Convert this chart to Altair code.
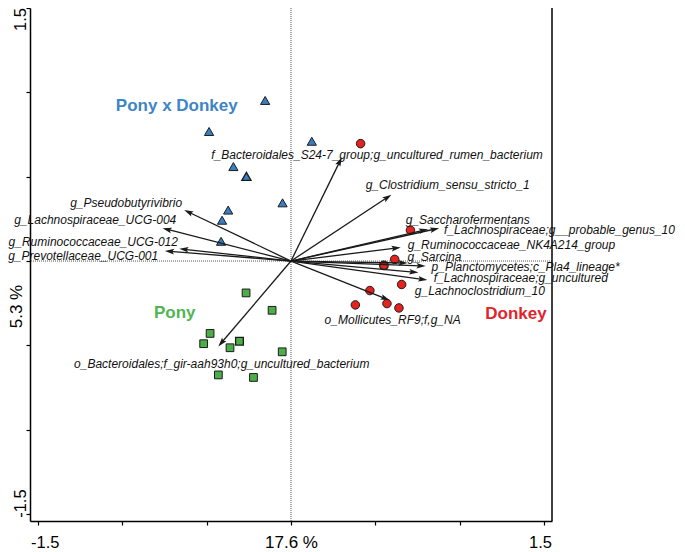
import altair as alt
import pandas as pd

# ---------------- sample scores ----------------
pxd_x = [-0.153, -0.485, -0.341, 0.123, -0.050, -0.372, -0.408, -0.414]
pxd_y = [0.952, 0.768, 0.560, 0.710, 0.345, 0.302, 0.242, 0.117]
donkey_x = [0.412, 0.707, 0.614, 0.655, 0.467, 0.568, 0.639, 0.381]
donkey_y = [0.696, 0.183, 0.010, -0.139, -0.175, -0.252, -0.278, -0.260]
pony_x = [-0.266, -0.112, -0.479, -0.517, -0.361, -0.052, -0.430, -0.222]
pony_y = [-0.189, -0.292, -0.429, -0.490, -0.514, -0.538, -0.675, -0.690]

groups = ["Pony x Donkey", "Donkey", "Pony"]
centroid_x = [-0.264, 0.550, -0.305]
centroid_y = [0.502, -0.026, -0.476]
group_label_x = [-0.676, 1.332, -0.688]
group_label_y = [0.917, -0.315, -0.310]

# ---------------- species arrows ----------------
species = [
    "f_Bacteroidales_S24-7_group;g_uncultured_rumen_bacterium",
    "g_Clostridium_sensu_stricto_1",
    "g_Saccharofermentans",
    "f_Lachnospiraceae;g__probable_genus_10",
    "g_Ruminococcaceae_NK4A214_group",
    "g_Sarcina",
    "p_Planctomycetes;c_Pla4_lineage*",
    "f_Lachnospiraceae;g_uncultured",
    "g_Lachnoclostridium_10",
    "o_Mollicutes_RF9;f,g_NA",
    "g_Pseudobutyrivibrio",
    "g_Lachnospiraceae_UCG-004",
    "g_Ruminococcaceae_UCG-012",
    "g_Prevotellaceae_UCG-001",
    "o_Bacteroidales;f_gir-aah93h0;g_uncultured_bacterium",
]
arrow_x = [0.301, 0.594, 0.811, 0.877, 0.649, 0.690, 0.797, 0.754, 0.807, 0.584,
           -0.632, -0.760, -0.661, -0.746, -0.430]
arrow_y = [0.615, 0.393, 0.189, 0.195, 0.080, -0.012, -0.030, -0.068, -0.113, -0.232,
           0.302, 0.195, 0.073, 0.060, -0.506]
label_x = [-0.472, 0.442, 0.679, 0.906, 0.691, 0.689, 0.832, 0.845, 0.733, 0.199,
           -0.644, -0.679, -0.669, -0.786, -1.284]
label_y = [0.631, 0.451, 0.246, 0.183, 0.093, 0.024, -0.034, -0.099, -0.179, -0.347,
           0.347, 0.242, 0.113, 0.030, -0.609]
label_anchor = ["start"] * 10 + ["end"] * 4 + ["start"]

tick_values = [-1.5, -1.0, -0.5, 0.0, 0.5, 1.0, 1.5]

# ---------------- tables ----------------
samples = pd.DataFrame({
    "x": pxd_x + donkey_x + pony_x,
    "y": pxd_y + donkey_y + pony_y,
    "group": [groups[0]] * len(pxd_x) + [groups[1]] * len(donkey_x) + [groups[2]] * len(pony_x),
})
cents = pd.DataFrame({"x": centroid_x, "y": centroid_y, "group": groups})
glabels = pd.DataFrame({"x": group_label_x, "y": group_label_y, "group": groups})
arrows = pd.DataFrame({"sp": species, "ax": arrow_x, "ay": arrow_y,
                       "lx": label_x, "ly": label_y, "anchor": label_anchor})

FONT = "Liberation Sans"
W, H = 522, 513
xs = alt.Scale(domain=[-1.545, 1.545], nice=False, zero=False)
ys = alt.Scale(domain=[-1.541, 1.5], nice=False, zero=False)
label_expr = "datum.value == 1.5 ? '1.5' : (datum.value == -1.5 ? '-1.5' : '')"

x_axis = alt.Axis(values=tick_values, labelExpr=label_expr, title="17.6 %", grid=False,
                  labelFlush=10, labelFlushOffset=7, labelPadding=9, tickSize=4,
                  titleY=26, titleBaseline="alphabetic")
y_axis = alt.Axis(values=tick_values, labelExpr=label_expr, title="5.3 %", grid=False,
                  labelAngle=270, labelAlign="center", labelBaseline="alphabetic",
                  labelPadding=1, tickSize=4,
                  labelOffset={"condition": {"test": "datum.value < 0", "value": -11}, "value": 11},
                  titleAngle=270, titleX=-14, titleY=298, titleAlign="center",
                  titleBaseline="middle")


def X(f):
    return alt.X(f, type="quantitative", scale=xs, axis=x_axis)


def Y(f):
    return alt.Y(f, type="quantitative", scale=ys, axis=y_axis)


shape_scale = alt.Scale(domain=groups, range=["triangle-up", "circle", "square"])
fill_scale = alt.Scale(domain=groups, range=["#3a7ec2", "#e4221f", "#4cae48"])
text_scale = alt.Scale(domain=groups, range=["#3d85c6", "#e3232b", "#52b452"])

zero = pd.DataFrame({"v": [0.0]})
vline = alt.Chart(zero).mark_rule(color="#555555", strokeWidth=1, strokeDash=[1, 1]).encode(x=X("v"))
hline = alt.Chart(zero).mark_rule(color="#555555", strokeWidth=1, strokeDash=[1, 1]).encode(y=Y("v"))
right_frame = alt.Chart(zero).mark_rule(color="black", strokeWidth=1.5).encode(
    x=alt.value(W), y=alt.value(0), y2=alt.value(H))

small_pts = alt.Chart(samples).mark_point(filled=True, opacity=1, stroke="#1c1c1c",
                                          strokeWidth=1).encode(
    x=X("x"), y=Y("y"),
    shape=alt.Shape("group:N", scale=shape_scale, legend=None),
    fill=alt.Fill("group:N", scale=fill_scale, legend=None),
    size=alt.Size("group:N", scale=alt.Scale(domain=groups, range=[85, 60, 58]), legend=None),
)
big_pts = alt.Chart(cents).mark_point(filled=True, opacity=1, stroke="#1c1c1c",
                                      strokeWidth=1.3).encode(
    x=X("x"), y=Y("y"),
    shape=alt.Shape("group:N", scale=shape_scale, legend=None),
    fill=alt.Fill("group:N", scale=fill_scale, legend=None),
    size=alt.Size("group:N", scale=alt.Scale(domain=groups, range=[430, 390, 430]), legend=None),
)

arrow_base = alt.Chart(arrows).transform_calculate(
    o="0",
    len="sqrt(datum.ax*datum.ax + datum.ay*datum.ay)",
).transform_calculate(
    hx="datum.ax - 0.030*datum.ax/datum.len",
    hy="datum.ay - 0.030*datum.ay/datum.len",
    ang="(atan2(datum.ax, datum.ay)*180/PI + 360) % 360",
)
shafts = arrow_base.mark_rule(color="#1a1a1a", strokeWidth=1.3).encode(
    x=X("o"), y=Y("o"), x2=alt.X2("hx:Q"), y2=alt.Y2("hy:Q"))
heads = arrow_base.mark_point(filled=True, opacity=1, color="#1a1a1a",
                              shape="M0,-1L0.55,0.8L0,0.45L-0.55,0.8Z", size=105).encode(
    x=X("hx"), y=Y("hy"), angle=alt.Angle("ang:Q", scale=None))

lab_start = alt.Chart(arrows).transform_filter("datum.anchor == 'start'").mark_text(
    align="left", baseline="middle", font=FONT, fontStyle="italic", fontSize=12,
    color="#111111").encode(x=X("lx"), y=Y("ly"), text="sp:N")
lab_end = alt.Chart(arrows).transform_filter("datum.anchor == 'end'").mark_text(
    align="right", baseline="middle", font=FONT, fontStyle="italic", fontSize=12,
    color="#111111").encode(x=X("lx"), y=Y("ly"), text="sp:N")

group_text = alt.Chart(glabels).mark_text(
    align="center", baseline="middle", font=FONT, fontWeight="bold", fontSize=17).encode(
    x=X("x"), y=Y("y"), text="group:N",
    color=alt.Color("group:N", scale=text_scale, legend=None))

chart = alt.layer(
    vline, hline, right_frame, small_pts, big_pts, shafts, heads, lab_start, lab_end, group_text
).properties(
    width=W, height=H,
    background="white",
    autosize=alt.AutoSizeParams(type="none"),
    padding={"left": 22, "top": 0, "right": 125, "bottom": 30},
).configure_view(stroke=None).configure_axis(
    domainColor="black", domainWidth=1.5, tickColor="black", tickWidth=1.2,
    labelFont=FONT, labelFontSize=16.5, labelColor="black",
    titleFont=FONT, titleFontSize=17, titleFontWeight="normal", titleColor="black",
)

chart.save("out.html", embed_options={"renderer": "svg", "actions": False})
